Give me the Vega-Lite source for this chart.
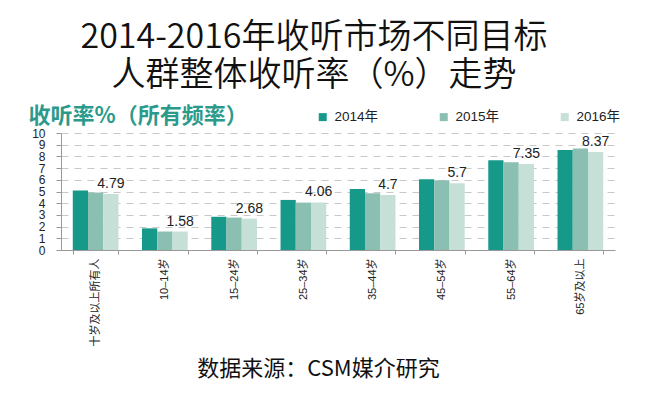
{
  "$schema": "https://vega.github.io/schema/vega-lite/v6.json",
  "width": 554,
  "height": 117,
  "autosize": {"type": "none"},
  "padding": {"left": 61, "top": 133, "right": 36, "bottom": 148},
  "background": "white",
  "title": {
    "text": ["2014-2016年收听市场不同目标", "人群整体收听率（%）走势"],
    "fontSize": 34,
    "font": "Noto Sans CJK SC",
    "fontWeight": 350,
    "color": "#111111",
    "anchor": "middle",
    "frame": "group",
    "lineHeight": 38,
    "offset": 11,
    "dx": -24
  },
  "data": {
    "values": [
      {"group": "十岁及以上所有人", "year": "2014年", "value": 5.08},
      {"group": "十岁及以上所有人", "year": "2015年", "value": 4.91},
      {"group": "十岁及以上所有人", "year": "2016年", "value": 4.79},
      {"group": "10–14岁", "year": "2014年", "value": 1.85},
      {"group": "10–14岁", "year": "2015年", "value": 1.58},
      {"group": "10–14岁", "year": "2016年", "value": 1.58},
      {"group": "15–24岁", "year": "2014年", "value": 2.84},
      {"group": "15–24岁", "year": "2015年", "value": 2.77},
      {"group": "15–24岁", "year": "2016年", "value": 2.68},
      {"group": "25–34岁", "year": "2014年", "value": 4.28},
      {"group": "25–34岁", "year": "2015年", "value": 4.05},
      {"group": "25–34岁", "year": "2016年", "value": 4.06},
      {"group": "35–44岁", "year": "2014年", "value": 5.22},
      {"group": "35–44岁", "year": "2015年", "value": 4.85},
      {"group": "35–44岁", "year": "2016年", "value": 4.7},
      {"group": "45–54岁", "year": "2014年", "value": 6.05},
      {"group": "45–54岁", "year": "2015年", "value": 5.97},
      {"group": "45–54岁", "year": "2016年", "value": 5.7},
      {"group": "55–64岁", "year": "2014年", "value": 7.68},
      {"group": "55–64岁", "year": "2015年", "value": 7.5},
      {"group": "55–64岁", "year": "2016年", "value": 7.35},
      {"group": "65岁及以上", "year": "2014年", "value": 8.55},
      {"group": "65岁及以上", "year": "2015年", "value": 8.68},
      {"group": "65岁及以上", "year": "2016年", "value": 8.37}
    ]
  },
  "encoding": {
    "x": {
      "field": "group",
      "type": "nominal",
      "sort": null,
      "scale": {"paddingInner": 0.34, "paddingOuter": 0.17},
      "axis": {
        "title": "数据来源：CSM媒介研究",
        "labelAngle": -90,
        "labelFontSize": 11,
        "labelFont": "Liberation Sans, Noto Sans CJK SC",
        "labelColor": "#222222",
        "labelPadding": 4,
        "tickBand": "extent",
        "tickSize": 4,
        "tickColor": "#999999",
        "domainColor": "#999999",
        "titleFont": "Noto Sans CJK SC",
        "titleFontSize": 22,
        "titleFontWeight": "normal",
        "titleColor": "#111111",
        "titleX": 257,
        "titleY": 125,
        "titleBaseline": "alphabetic",
        "titleAlign": "center"
      }
    },
    "xOffset": {
      "field": "year",
      "type": "nominal",
      "scale": {"paddingInner": 0, "paddingOuter": 0}
    },
    "y": {
      "field": "value",
      "type": "quantitative",
      "scale": {"domain": [0, 10]},
      "axis": {
        "values": [0, 1, 2, 3, 4, 5, 6, 7, 8, 9, 10],
        "title": "收听率%（所有频率）",
        "titleAngle": 0,
        "titleAlign": "left",
        "titleBaseline": "alphabetic",
        "titleX": -33,
        "titleY": -11,
        "titleFont": "Noto Sans CJK SC",
        "titleFontSize": 22,
        "titleFontWeight": "bold",
        "titleColor": "#2b9a8b",
        "labelFont": "Liberation Sans",
        "labelFontSize": 12,
        "labelColor": "#222222",
        "labelPadding": 11,
        "labelOverlap": false,
        "labelFlush": false,
        "tickSize": 5,
        "tickColor": "#999999",
        "domainColor": "#999999",
        "gridColor": "#c8c8c8",
        "gridDash": [7, 6]
      }
    }
  },
  "layer": [
    {
      "mark": {"type": "bar"},
      "encoding": {
        "color": {
          "field": "year",
          "type": "nominal",
          "scale": {
            "domain": ["2014年", "2015年", "2016年"],
            "range": ["#17998a", "#8bbfb1", "#c6dfd7"]
          },
          "legend": {
            "title": null,
            "orient": "none",
            "direction": "horizontal",
            "legendX": 255,
            "legendY": -23,
            "symbolType": "square",
            "symbolSize": 64,
            "symbolStrokeWidth": 0,
            "labelFont": "Liberation Sans, Noto Sans CJK SC",
            "labelFontSize": 13.5,
            "labelColor": "#222222",
            "labelOffset": 5,
            "columnPadding": 58
          }
        }
      }
    },
    {
      "transform": [{"filter": "datum.year === '2016年'"}],
      "mark": {
        "type": "text",
        "baseline": "alphabetic",
        "dy": -6,
        "font": "Liberation Sans",
        "fontSize": 14,
        "color": "#222222"
      },
      "encoding": {
        "text": {"field": "value", "type": "quantitative", "format": ".3~g"}
      }
    }
  ],
  "config": {
    "view": {"stroke": null}
  }
}
